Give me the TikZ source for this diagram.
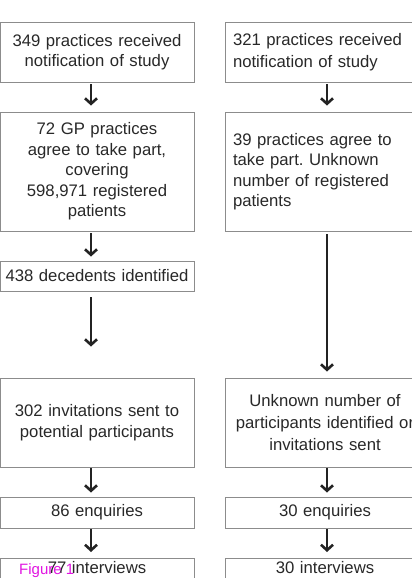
\documentclass[tikz,border=0pt]{standalone}
\usepackage{fontspec}
\setmainfont{Liberation Sans}
\usetikzlibrary{arrows.meta}
\frenchspacing
\definecolor{boxgray}{RGB}{140,140,140}
\definecolor{txtcol}{RGB}{40,40,40}
\definecolor{arrcol}{RGB}{35,35,35}
\definecolor{figmag}{RGB}{225,20,225}
\begin{document}
\begin{tikzpicture}[x=1pt,y=-1pt,
  box/.style={draw=boxgray,line width=0.9pt,text=txtcol,
    font=\fontsize{16.7}{20.5}\selectfont,inner ysep=0pt},
  lbox/.style={box,inner xsep=4pt,text width=186pt,align=center},
  rbox/.style={box,inner xsep=4pt,text width=192pt,align=center},
  rlbox/.style={box,inner xsep=8pt,text width=184pt,align=left},
  bottombox/.style={inner ysep=3pt,text height=12pt,text depth=25pt,anchor=north},
  arr/.style={draw=arrcol,line width=2.6pt,-{Straight Barb[length=5.5pt,width=12pt]}}
]
\useasboundingbox (0,0) rectangle (412,578);
\coordinate (axL) at (91,0);
\coordinate (axR) at (327,0);
% left column
\node[lbox,minimum height=60pt] (b1) at (97,52) {349 practices received\\notification of study};
\node[lbox,minimum height=119pt] (b2) at (97,171.5) {72 GP practices\\agree to take part,\\covering\\598,971 registered\\patients};
\node[lbox,minimum height=30pt] (b3) at (97,276) {438 decedents identified};
\node[lbox,minimum height=89pt] (b4) at (97,422.5) {302 invitations sent to\\potential participants};
\node[lbox,minimum height=31pt] (b5) at (97,512.5) {86 enquiries};
\node[lbox,bottombox] (b6) at (97,558) {77 interviews};
% right column
\node[rlbox,minimum height=60pt,font=\fontsize{16.7}{22.5}\selectfont] (r1) at (325,52) {321 practices received\\notification of study};
\node[rlbox,minimum height=119pt] (r2) at (325,171.5) {39 practices agree to\\take part. Unknown\\number of registered\\patients};
\node[rbox,minimum height=89pt,font=\fontsize{16.7}{22}\selectfont] (r3) at (325,422.5) {Unknown number of\\participants identified or\\invitations sent};
\node[rbox,minimum height=31pt] (r5) at (325,512.5) {30 enquiries};
\node[rbox,bottombox] (r6) at (325,558) {30 interviews};
% label
\node[anchor=base west,inner sep=0pt,text=figmag,font=\fontsize{15}{18}\selectfont] (fig) at (19,574) {Figure 1};
% arrows left
\draw[arr,shorten <=2pt,shorten >=6pt] (b1.south -| axL) -- (b2.north -| axL);
\draw[arr,shorten <=2pt,shorten >=4pt] (b2.south -| axL) -- (b3.north -| axL);
\draw[arr,shorten <=6pt,shorten >=31pt] (b3.south -| axL) -- (b4.north -| axL);
\draw[arr,shorten <=1pt,shorten >=4pt] (b4.south -| axL) -- (b5.north -| axL);
\draw[arr,shorten <=1pt,shorten >=6pt] (b5.south -| axL) -- (b6.north -| axL);
% arrows right
\draw[arr,shorten <=2pt,shorten >=6pt] (r1.south -| axR) -- (r2.north -| axR);
\draw[arr,shorten <=3pt,shorten >=6pt] (r2.south -| axR) -- (r3.north -| axR);
\draw[arr,shorten <=1pt,shorten >=4pt] (r3.south -| axR) -- (r5.north -| axR);
\draw[arr,shorten <=1pt,shorten >=6pt] (r5.south -| axR) -- (r6.north -| axR);
\end{tikzpicture}
\end{document}
